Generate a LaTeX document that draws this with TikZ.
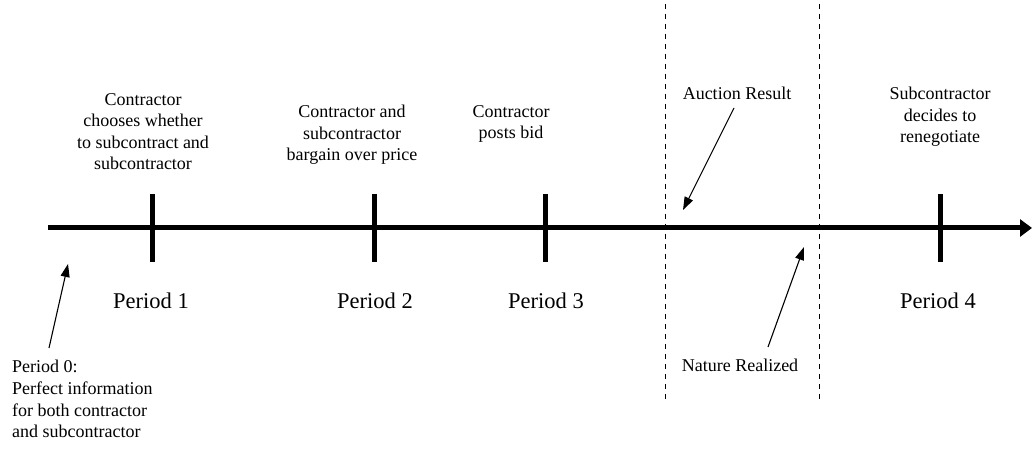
\documentclass[tikz,border=0pt]{standalone}
\usepackage{fontspec}
\setmainfont{Liberation Serif}
\usetikzlibrary{arrows.meta}
\begin{document}
\begin{tikzpicture}[x=1bp,y=-1bp,
  lbl/.style={inner sep=0pt, anchor=north, align=center, font=\fontsize{18bp}{21.5bp}\selectfont},
  lblleft/.style={inner sep=0pt, anchor=north west, align=left, font=\fontsize{18bp}{21.7bp}\selectfont},
  period/.style={inner sep=0pt, anchor=north, font=\fontsize{22.5bp}{26bp}\selectfont},
  axis/.style={line width=5bp},
  tick/.style={line width=5bp},
  divider/.style={line width=1bp, dash pattern=on 5bp off 5bp},
  pointer/.style={line width=1.1bp, -{Triangle[length=13bp,width=9bp]}}]
\useasboundingbox (0,0) rectangle (1032,450);
% axis
\coordinate (start) at (48,228);
\coordinate (end) at (1032,228);
\draw[axis, -{Triangle[length=12bp,width=17bp]}] (start) -- (end);
% ticks
\foreach \n/\x in {1/152, 2/374, 3/545, 4/940} {
  \coordinate (t\n top) at (\x,194);
  \coordinate (t\n bot) at (\x,262);
  \draw[tick] (t\n top) -- (t\n bot);
}
% dividers
\coordinate (d1top) at (665,4);
\coordinate (d1bot) at (665,400);
\coordinate (d2top) at (819,4);
\coordinate (d2bot) at (819,400);
\draw[divider] (d1top) -- (d1bot);
\draw[divider] (d2top) -- (d2bot);
% upper labels
\node[lbl] (u1) at (143,93) {Contractor\\chooses whether\\to subcontract and\\subcontractor};
\node[lbl] (u2) at (352,105) {Contractor and\\subcontractor\\bargain over price};
\node[lbl] (u3) at (511,105) {Contractor\\posts bid};
\node[lbl] (u4) at (940,87) {Subcontractor\\decides to\\renegotiate};
\node[lbl] (auction) at (737,87) {Auction Result};
\node[lbl] (nature) at (740,359) {Nature Realized};
% period labels
\node[period] (p1) at (151,293) {Period 1};
\node[period] (p2) at (375,293) {Period 2};
\node[period] (p3) at (546,293) {Period 3};
\node[period] (p4) at (938,293) {Period 4};
% period 0
\node[lblleft] (p0) at (12,360) {Period 0:\\Perfect information\\for both contractor\\and subcontractor};
% pointers
\coordinate (a0s) at (49,348);
\coordinate (a0e) at (68,264);
\coordinate (aas) at (734,108);
\coordinate (aae) at (683,210);
\coordinate (ans) at (768,347);
\coordinate (ane) at (804,247);
\draw[pointer] (a0s) -- (a0e);
\draw[pointer] (aas) -- (aae);
\draw[pointer] (ans) -- (ane);
\end{tikzpicture}
\end{document}
